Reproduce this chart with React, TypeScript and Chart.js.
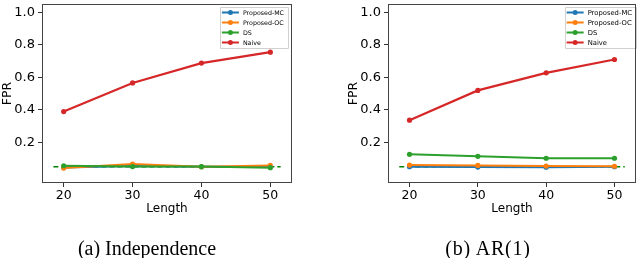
import React, { useEffect, useRef } from "react";
import { Chart, registerables } from "chart.js";

Chart.register(...registerables);

const lengths = [20, 30, 40, 50];
const yTickValues = [0.2, 0.4, 0.6, 0.8, 1.0];
const refLineX = [18.5, 51.5];
const refLevel = 0.05;
const seriesNames = ["Proposed-MC", "Proposed-OC", "DS", "Naive"];
const seriesColors = ["#1f77b4", "#ff7f0e", "#2ca02c", "#d62728"];

const indepMC = [0.045, 0.055, 0.05, 0.05];
const indepOC = [0.042, 0.066, 0.05, 0.058];
const indepDS = [0.056, 0.051, 0.051, 0.044];
const indepNaive = [0.389, 0.565, 0.687, 0.754];

const arMC = [0.05, 0.048, 0.047, 0.05];
const arOC = [0.06, 0.058, 0.054, 0.053];
const arDS = [0.126, 0.114, 0.102, 0.102];
const arNaive = [0.336, 0.519, 0.627, 0.709];

const FONT = "'DejaVu Sans', sans-serif";

function makeLegendPlugin(fontSize: number, marginRight: number) {
  return {
    id: "boxLegend",
    afterDatasetsDraw(chart: any) {
      const ctx = chart.ctx;
      const area = chart.chartArea;
      ctx.save();
      ctx.font = `${fontSize}px ${FONT}`;
      let maxW = 0;
      seriesNames.forEach((n) => {
        maxW = Math.max(maxW, ctx.measureText(n).width);
      });
      const handle = 17;
      const w = 2 + handle + 4 + maxW + 4;
      const rowH = 10;
      const h = rowH * seriesNames.length + 1;
      const x0 = area.right - marginRight - w;
      const y0 = area.top + 3;
      ctx.fillStyle = "rgba(255,255,255,0.85)";
      ctx.strokeStyle = "#d0d0d0";
      ctx.lineWidth = 1;
      ctx.beginPath();
      ctx.rect(Math.round(x0) + 0.5, Math.round(y0) + 0.5, Math.round(w), Math.round(h));
      ctx.fill();
      ctx.stroke();
      seriesNames.forEach((n, i) => {
        const cy = y0 + 5.5 + i * rowH;
        ctx.strokeStyle = seriesColors[i];
        ctx.lineWidth = 2;
        ctx.beginPath();
        ctx.moveTo(x0 + 2, cy);
        ctx.lineTo(x0 + 2 + handle, cy);
        ctx.stroke();
        ctx.fillStyle = seriesColors[i];
        ctx.beginPath();
        ctx.arc(x0 + 2 + handle / 2, cy, 2.5, 0, Math.PI * 2);
        ctx.fill();
        ctx.fillStyle = "#000";
        ctx.textBaseline = "middle";
        ctx.textAlign = "left";
        ctx.fillText(n, x0 + 2 + handle + 4, cy + 0.5);
      });
      ctx.restore();
    },
  };
}

const framePlugin = {
  id: "frame",
  afterDraw(chart: any) {
    const { left, right, top, bottom } = chart.chartArea;
    const ctx = chart.ctx;
    ctx.save();
    ctx.strokeStyle = "#444";
    ctx.lineWidth = 1;
    ctx.strokeRect(Math.round(left) + 0.5, Math.round(top) + 0.5, Math.round(right - left) - 1, Math.round(bottom - top) - 1);
    ctx.restore();
  },
};

function FprChart(props: {
  mc: number[];
  oc: number[];
  ds: number[];
  naive: number[];
  padLeft: number;
  padRight: number;
  legendFont: number;
  legendMargin: number;
}) {
  const ref = useRef<HTMLCanvasElement | null>(null);
  useEffect(() => {
    const toPts = (arr: number[]) => lengths.map((x, i) => ({ x, y: arr[i] }));
    const series = [props.mc, props.oc, props.ds, props.naive];
    const datasets: any[] = series.map((s, i) => ({
      label: seriesNames[i],
      data: toPts(s),
      borderColor: seriesColors[i],
      backgroundColor: seriesColors[i],
      pointBackgroundColor: seriesColors[i],
      pointBorderColor: seriesColors[i],
      borderWidth: i === 3 ? 2.2 : 2,
      pointRadius: 2.6,
      pointBorderWidth: 0,
      tension: 0,
      order: 5 - i,
    }));
    datasets.push({
      label: "alpha",
      data: refLineX.map((x) => ({ x, y: refLevel })),
      borderColor: "#008000",
      borderWidth: 1.6,
      borderDash: [5, 3],
      pointRadius: 0,
      order: 10,
    });
    const chart = new Chart(ref.current as HTMLCanvasElement, {
      type: "line",
      data: { datasets },
      options: {
        animation: false,
        responsive: false,
        maintainAspectRatio: false,
        layout: { padding: { left: props.padLeft, right: props.padRight, top: -2, bottom: 42 } },
        plugins: { legend: { display: false }, tooltip: { enabled: false } },
        scales: {
          x: {
            type: "linear",
            min: 16.85,
            max: 53.15,
            afterBuildTicks: (scale: any) => {
              scale.ticks = lengths.map((v) => ({ value: v }));
            },
            afterFit: (scale: any) => {
              scale.height = 33;
              scale.paddingLeft = 0;
              scale.paddingRight = 0;
            },
            ticks: {
              color: "#000",
              font: { family: FONT, size: 12.5 },
              padding: 1,
              maxRotation: 0,
              autoSkip: false,
              callback: (v: any) => String(v),
            },
            grid: { drawOnChartArea: false, tickLength: 4, color: "#333", tickColor: "#333" },
            border: { display: false },
            title: {
              display: true,
              text: "Length",
              color: "#000",
              font: { family: FONT, size: 12 },
              padding: { top: 0, bottom: 0 },
            },
          },
          y: {
            type: "linear",
            min: -0.05,
            max: 1.05,
            afterBuildTicks: (scale: any) => {
              scale.ticks = yTickValues.map((v) => ({ value: v }));
            },
            afterFit: (scale: any) => {
              scale.width = 42;
              scale.paddingTop = 0;
              scale.paddingBottom = 0;
            },
            ticks: {
              color: "#000",
              font: { family: FONT, size: 13 },
              padding: 3,
              autoSkip: false,
              callback: (v: any) => Number(v).toFixed(1),
            },
            grid: { drawOnChartArea: false, tickLength: 4, color: "#333", tickColor: "#333" },
            border: { display: false },
            title: {
              display: true,
              text: "FPR",
              color: "#000",
              font: { family: FONT, size: 12.5 },
              padding: { top: 0, bottom: 0 },
            },
          },
        },
      },
      plugins: [framePlugin, makeLegendPlugin(props.legendFont, props.legendMargin)],
    } as any);
    return () => chart.destroy();
  }, []);
  return <canvas ref={ref} width={320} height={258} style={{ display: "block", width: 320, height: 258 }} />;
}

export default function App() {
  useEffect(() => {
    document.body.style.margin = "0";
  }, []);
  const capStyle: React.CSSProperties = {
    position: "absolute",
    top: 236,
    fontFamily: "'Liberation Serif', serif",
    fontSize: 20,
    lineHeight: "24px",
    transform: "translateX(-50%)",
    whiteSpace: "nowrap",
    color: "#000",
  };
  return (
    <div style={{ position: "relative", width: 640, height: 258, overflow: "hidden", background: "#fff" }}>
      <div style={{ position: "absolute", left: 0, top: 0 }}>
        <FprChart mc={indepMC} oc={indepOC} ds={indepDS} naive={indepNaive} padLeft={0} padRight={28} legendFont={6.3} legendMargin={4} />
      </div>
      <div style={{ position: "absolute", left: 320, top: 0 }}>
        <FprChart mc={arMC} oc={arOC} ds={arDS} naive={arNaive} padLeft={26} padRight={1} legendFont={6.8} legendMargin={0} />
      </div>
      <div style={{ ...capStyle, left: 147 }}>(a) Independence</div>
      <div style={{ ...capStyle, left: 488, letterSpacing: 0.8 }}>(b) AR(1)</div>
    </div>
  );
}
